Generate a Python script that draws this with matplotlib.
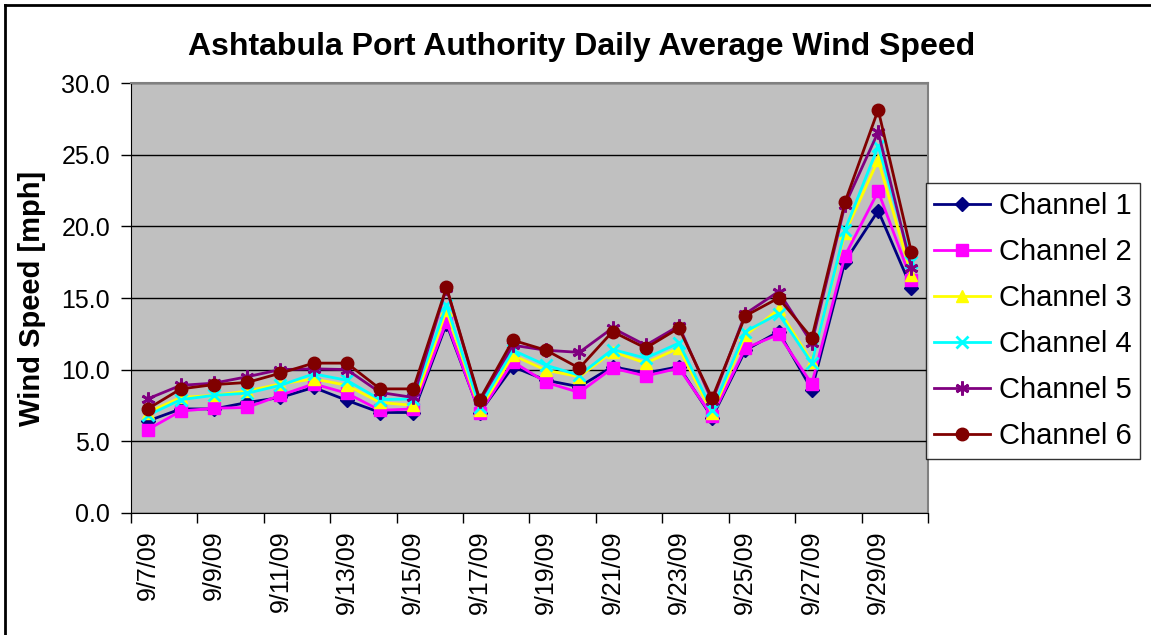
import matplotlib.pyplot as plt
from matplotlib.lines import Line2D

plt.rcParams['font.family'] = ['Liberation Sans', 'DejaVu Sans']

# Data
dates = ['9/7/09', '9/8/09', '9/9/09', '9/10/09', '9/11/09', '9/12/09',
         '9/13/09', '9/14/09', '9/15/09', '9/16/09', '9/17/09', '9/18/09',
         '9/19/09', '9/20/09', '9/21/09', '9/22/09', '9/23/09', '9/24/09',
         '9/25/09', '9/26/09', '9/27/09', '9/28/09', '9/29/09', '9/30/09']

ch1 = [6.4, 7.25, 7.25, 7.7, 8.05, 8.75, 7.85, 7.0, 7.0, 13.2, 7.0, 10.2,
       9.25, 8.8, 10.2, 9.75, 10.2, 6.65, 11.35, 12.65, 8.6, 17.55, 21.1, 15.7]
ch2 = [5.8, 7.1, 7.3, 7.35, 8.2, 9.0, 8.35, 7.15, 7.25, 13.35, 6.95, 10.55,
       9.1, 8.4, 10.1, 9.55, 10.1, 6.75, 11.5, 12.45, 9.0, 17.95, 22.45, 16.25]
ch3 = [7.0, 8.05, 8.2, 8.5, 9.0, 9.35, 8.9, 7.7, 7.5, 14.15, 7.2, 11.0,
       9.95, 9.5, 11.25, 10.45, 11.5, 6.95, 12.4, 14.2, 10.55, 19.55, 24.65, 16.6]
ch4 = [6.8, 7.9, 8.2, 8.35, 8.9, 9.7, 9.25, 7.9, 7.95, 14.5, 7.4, 11.35,
       10.3, 9.6, 11.4, 10.8, 11.85, 7.2, 12.65, 13.9, 10.45, 19.75, 25.6, 17.55]
ch5 = [7.95, 8.9, 9.05, 9.5, 10.0, 10.05, 10.0, 8.4, 8.05, 15.7, 7.8, 11.7,
       11.35, 11.2, 12.9, 11.7, 13.05, 7.8, 13.9, 15.45, 11.85, 21.5, 26.6, 17.1]
ch6 = [7.25, 8.65, 8.95, 9.1, 9.75, 10.45, 10.45, 8.65, 8.65, 15.75, 7.9, 12.05,
       11.35, 10.1, 12.65, 11.5, 12.9, 8.0, 13.75, 15.0, 12.2, 21.7, 28.15, 18.2]

series = [ch1, ch2, ch3, ch4, ch5, ch6]
names = ['Channel 1', 'Channel 2', 'Channel 3', 'Channel 4', 'Channel 5', 'Channel 6']
colors = ['#000080', '#FF00FF', '#FFFF00', '#00FFFF', '#800080', '#800000']
markers = ['D', 's', '^', 'x', (6, 2, 0), 'o']
msizes = [7, 8, 9, 9, 10, 9]

W, H = 1151, 635
fig = plt.figure(figsize=(W / 100, H / 100), dpi=100)
ax = fig.add_axes([131 / W, 1 - 512.7 / H, (928 - 131) / W, (512.7 - 83.3) / H])
ax.set_facecolor('#C0C0C0')

x = list(range(len(dates)))
handles = []
for vals, name, c, m, ms in zip(series, names, colors, markers, msizes):
    ln, = ax.plot(x, vals, color=c, lw=2, marker=m, markersize=ms,
                  markeredgewidth=2 if m in ('x', (6, 2, 0)) else 1,
                  markeredgecolor=c, markerfacecolor=c, label=name, zorder=3)
    handles.append(ln)

ax.set_xlim(-0.5, len(dates) - 0.5)
ax.set_ylim(0, 30)
ax.set_yticks([0, 5, 10, 15, 20, 25, 30])
ax.set_yticklabels([f'{v:.1f}' for v in [0, 5, 10, 15, 20, 25, 30]])
ax.yaxis.grid(True, color='black', lw=1)
ax.set_axisbelow(True)
ax.tick_params(axis='y', direction='out', length=7, width=1, labelsize=18, pad=8)

# ticks between categories, labels on every second category
ax.set_xticks([i - 0.5 for i in range(0, len(dates) + 1, 2)])
ax.set_xticklabels([])
ax.set_xticks(x[::2], minor=True)
ax.set_xticklabels(dates[::2], minor=True, rotation=90, va='top', ha='center')
ax.tick_params(axis='x', which='major', direction='out', length=7, width=1)
ax.tick_params(axis='x', which='minor', length=0, labelsize=18, pad=13)

for s in ['left', 'bottom']:
    ax.spines[s].set_color('black')
for s in ['top', 'right']:
    ax.spines[s].set_color('#808080')
    ax.spines[s].set_linewidth(1.5)

ax.set_ylabel('Wind Speed [mph]', fontsize=21, fontweight='bold')
ax.yaxis.set_label_coords(-(131 - 46) / (928 - 131), 0.5)

fig.text(582 / W, 1 - 47 / H, 'Ashtabula Port Authority Daily Average Wind Speed',
         fontsize=23, fontweight='bold', ha='center', va='center')

leg = fig.legend(handles=handles, loc='upper left',
                 bbox_to_anchor=(925.7 / W, 1 - 183.3 / H),
                 fontsize=21, frameon=True, fancybox=False, shadow=False,
                 handlelength=1.9, handletextpad=0.3, labelspacing=0.62,
                 borderpad=0.3, borderaxespad=0)
leg.get_frame().set_edgecolor('black')
leg.get_frame().set_linewidth(1)

# outer chart border (left and top visible)
fig.add_artist(Line2D([5 / W, 5 / W], [0, 1 - 5 / H], color='black', lw=2))
fig.add_artist(Line2D([5 / W, 1], [1 - 5 / H, 1 - 5 / H], color='black', lw=2))

fig.savefig('out.png', dpi=100)
